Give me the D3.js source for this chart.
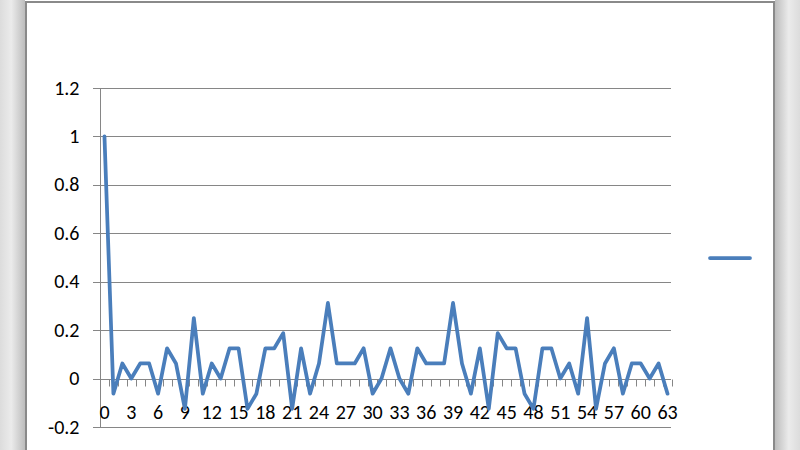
<!DOCTYPE html>
<html><head><meta charset="utf-8">
<script src="https://cdn.jsdelivr.net/npm/d3@7"></script>
<style>body{margin:0;padding:0;overflow:hidden;} svg{display:block;}</style>
</head><body>
<svg id="c" width="800" height="450"></svg>
<script>
const categories = d3.range(64);
const values = [1, -0.0625, 0.0625, 0, 0.0625, 0.0625, -0.0625, 0.125, 0.0625, -0.125,
  0.25, -0.0625, 0.0625, 0, 0.125, 0.125, -0.125, -0.0625, 0.125, 0.125,
  0.1875, -0.125, 0.125, -0.0625, 0.0625, 0.3125, 0.0625, 0.0625, 0.0625, 0.125,
  -0.0625, 0, 0.125, 0, -0.0625, 0.125, 0.0625, 0.0625, 0.0625, 0.3125,
  0.0625, -0.0625, 0.125, -0.125, 0.1875, 0.125, 0.125, -0.0625, -0.125, 0.125,
  0.125, 0, 0.0625, -0.0625, 0.25, -0.125, 0.0625, 0.125, -0.0625, 0.0625,
  0.0625, 0, 0.0625, -0.0625];
const yTicks = [-0.2, 0, 0.2, 0.4, 0.6, 0.8, 1, 1.2];
const xTickLabels = categories.filter(d => d % 3 === 0);

(function () {
const svg = d3.select("#c");
const defs = svg.append("defs");
const gl = defs.append("linearGradient").attr("id","gl").attr("x1","0").attr("x2","1");
gl.append("stop").attr("offset","0").attr("stop-color","#dcdcdc");
gl.append("stop").attr("offset","0.45").attr("stop-color","#ebebeb");
gl.append("stop").attr("offset","1").attr("stop-color","#bdbdbd");
const gr = defs.append("linearGradient").attr("id","gr").attr("x1","0").attr("x2","1");
gr.append("stop").attr("offset","0").attr("stop-color","#bdbdbd");
gr.append("stop").attr("offset","0.55").attr("stop-color","#ebebeb");
gr.append("stop").attr("offset","1").attr("stop-color","#dcdcdc");

svg.append("rect").attr("x",0).attr("y",0).attr("width",25).attr("height",450).attr("fill","url(#gl)");
svg.append("rect").attr("x",775).attr("y",0).attr("width",25).attr("height",450).attr("fill","url(#gr)");
svg.append("rect").attr("x",26).attr("y",2).attr("width",748).attr("height",460)
  .attr("fill","#fff").attr("stroke","#8a8a8a").attr("stroke-width",2);

const pLeft = 100, pRight = 672, pTop = 88, pBottom = 427;
const font = "Carlito, Calibri, 'Liberation Sans', Arial, sans-serif";
const x = d3.scaleBand().domain(categories).range([pLeft, pRight]);
const y = d3.scaleLinear().domain([-0.2, 1.2]).range([pBottom, pTop]);

svg.append("g").selectAll("line").data(yTicks).join("line")
  .attr("x1", pLeft - 7).attr("x2", pRight - 1)
  .attr("y1", d => Math.round(y(d)) + 0.5).attr("y2", d => Math.round(y(d)) + 0.5)
  .attr("stroke", "#868686").attr("stroke-width", 1);

svg.append("line").attr("x1", pLeft + 0.5).attr("x2", pLeft + 0.5)
  .attr("y1", pTop).attr("y2", pBottom + 1).attr("stroke", "#868686");

svg.append("g").selectAll("text").data(yTicks).join("text")
  .attr("x", 79.5).attr("y", d => y(d)).attr("dy", "0.33em")
  .attr("text-anchor", "end")
  .attr("font-family", font)
  .attr("font-size", 20).attr("fill", "#000")
  .text(d => String(+d.toFixed(1)));

const y0 = Math.round(y(0)) + 0.5;
svg.append("g").selectAll("line").data(d3.range(65)).join("line")
  .attr("x1", d => Math.round(pLeft + d * x.step()) + 0.5)
  .attr("x2", d => Math.round(pLeft + d * x.step()) + 0.5)
  .attr("y1", y0).attr("y2", y0 + 7)
  .attr("stroke", "#868686");

svg.append("g").selectAll("text").data(xTickLabels).join("text")
  .attr("x", d => x(d) + x.bandwidth() / 2).attr("y", 418.5)
  .attr("text-anchor", "middle")
  .attr("font-family", font)
  .attr("font-size", 20).attr("fill", "#000")
  .text(d => d);

const line = d3.line().x((d, i) => x(categories[i]) + x.bandwidth() / 2).y(d => y(d));
svg.append("path").datum(values).attr("d", line)
  .attr("fill", "none").attr("stroke", "#4a7ebb").attr("stroke-width", 3.75)
  .attr("stroke-linejoin", "round").attr("stroke-linecap", "round");

svg.append("line").attr("x1", 710).attr("x2", 750).attr("y1", 258).attr("y2", 258)
  .attr("stroke", "#4a7ebb").attr("stroke-width", 3.75).attr("stroke-linecap", "round");
})();
</script>
</body></html>
